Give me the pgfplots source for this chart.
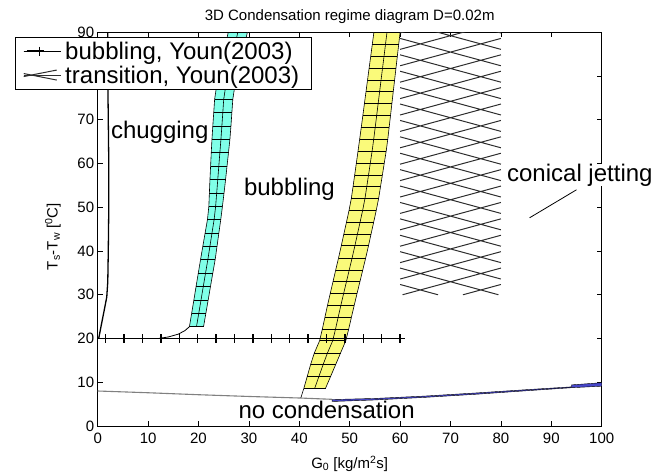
\documentclass[border=0pt]{standalone}
\usepackage{pgfplots}
\pgfplotsset{compat=1.18}
\usepackage{pgfplotstable}
\usepgfplotslibrary{fillbetween}
\usepackage{fontspec}
\setmainfont{Liberation Sans}

\definecolor{bandcyan}{RGB}{128,255,232}
\definecolor{bandyellow}{RGB}{250,250,122}
\definecolor{hatch}{RGB}{45,45,45}
\definecolor{lowblue}{RGB}{70,70,200}

% cyan strip (chugging -> bubbling)
\pgfplotstableread{
y xl xr
22.7 18.20 21.00
25.8 18.65 21.47
28.8 19.08 21.92
31.9 19.52 22.38
34.9 19.95 22.83
38.0 20.40 23.30
41.1 20.86 23.68
44.1 21.31 24.04
47.2 21.78 24.42
50.2 22.05 24.75
53.3 22.16 25.07
56.3 22.27 25.37
59.4 22.40 25.66
62.5 22.53 25.95
65.5 22.67 26.23
68.6 22.84 26.44
71.6 23.02 26.62
74.7 23.20 26.81
77.8 23.60 27.22
80.8 24.17 27.83
83.9 24.75 28.46
86.9 25.32 29.07
90.0 25.90 29.70
}\cyanband

% yellow strip (bubbling -> jetting)
\pgfplotstableread{
y xl xr
8.6 40.90 45.20
11.3 41.57 46.20
14.0 42.23 47.20
16.7 42.99 48.19
19.5 44.03 49.23
22.2 44.58 49.81
24.9 45.09 50.35
27.6 45.60 50.90
30.3 46.14 51.46
33.0 46.69 52.03
35.7 47.23 52.60
38.4 47.78 53.17
41.2 48.33 53.73
43.9 48.84 54.24
46.6 49.36 54.76
49.3 49.87 55.27
52.0 50.32 55.74
54.7 50.66 56.11
57.4 50.99 56.49
60.1 51.32 56.86
62.9 51.66 57.25
65.6 51.98 57.56
68.3 52.30 57.83
71.0 52.61 58.10
73.7 52.92 58.37
76.4 53.23 58.64
79.1 53.54 58.91
81.8 53.85 59.18
84.6 54.18 59.46
87.3 54.49 59.73
90.0 54.80 60.00
}\yellowband

\begin{document}
\begin{tikzpicture}
\begin{axis}[
    scale only axis,
    width=504pt, height=393.7pt,
    xmin=0, xmax=100, ymin=0, ymax=90,
    xtick={0,10,...,100}, ytick={0,10,...,90},
    tick align=inside, major tick length=5pt,
    tick pos=both,
    axis line style={line width=0.8pt},
    every tick/.style={black, line width=0.8pt},
    /pgf/number format/assume math mode=true,
    tick label style={font=\fontsize{15}{18}\selectfont},
    xticklabel style={yshift=-3pt},
    title={3D Condensation regime diagram D=0.02m},
    title style={font=\fontsize{15}{18}\selectfont, at={(0.5,1)}, anchor=base, yshift=6pt},
    xlabel={G\textsubscript{0} [kg/m\textsuperscript{2}s]},
    xlabel style={font=\fontsize{15}{18}\selectfont, at={(axis description cs:0.5,0)}, anchor=center, yshift=-37.7pt},
    ylabel={T\textsubscript{s}-T\textsubscript{w} [\textsuperscript{0}C]},
    ylabel style={font=\fontsize{15}{18}\selectfont, at={(axis description cs:-0.0887,0.481)}, anchor=center},
    legend cell align=left,
    legend style={at={(-0.164,0.988)}, anchor=north west,
        font=\fontsize{24}{28}\selectfont, draw=black, fill=white,
        inner xsep=8pt, inner ysep=2pt,
        nodes={inner xsep=4pt, inner ysep=2.5pt}},
]

% cyan strip
\addplot[draw=none, forget plot, name path=cl] table[x=xl, y=y] {\cyanband};
\addplot[draw=none, forget plot, name path=cr] table[x=xr, y=y] {\cyanband};
\addplot[bandcyan, forget plot] fill between[of=cl and cr];
\addplot[black, line width=0.6pt, forget plot] table[x=xl, y=y] {\cyanband};
\addplot[black, line width=0.6pt, forget plot] table[x=xr, y=y] {\cyanband};
\addplot[black, line width=0.6pt, forget plot] table[x expr=(\thisrow{xl}+\thisrow{xr})/2, y=y] {\cyanband};
\addplot[draw=none, forget plot, error bars/.cd, x dir=plus, x explicit, error mark=none,
    error bar style={draw=black, line width=0.6pt}]
    table[x=xl, y=y, x error expr=\thisrow{xr}-\thisrow{xl}] {\cyanband};

% yellow strip
\addplot[draw=none, forget plot, name path=yl] table[x=xl, y=y] {\yellowband};
\addplot[draw=none, forget plot, name path=yr] table[x=xr, y=y] {\yellowband};
\addplot[bandyellow, forget plot] fill between[of=yl and yr];
\addplot[black, line width=0.6pt, forget plot] table[x=xl, y=y] {\yellowband};
\addplot[black, line width=0.6pt, forget plot] table[x=xr, y=y] {\yellowband};
\addplot[black, line width=0.6pt, forget plot] table[x expr=(\thisrow{xl}+\thisrow{xr})/2, y=y] {\yellowband};
\addplot[draw=none, forget plot, error bars/.cd, x dir=plus, x explicit, error mark=none,
    error bar style={draw=black, line width=0.6pt}]
    table[x=xl, y=y, x error expr=\thisrow{xr}-\thisrow{xl}] {\yellowband};

% no condensation boundary
\addplot[gray, line width=1.1pt, forget plot] coordinates {
    (0,8.0) (10,7.6) (20,7.15) (30,6.75) (40,6.4) (46.5,6.1)
};
\addplot[black, line width=0.6pt, forget plot] coordinates {(40.3,6.4) (40.9,8.6)};
\addplot[fill=lowblue, draw=black, line width=0.4pt, forget plot] coordinates {
    (46.5,5.6) (55,5.95) (65,6.55) (75,7.25) (85,8.05) (94,8.75) (100,9.1)
    (100,9.9) (94,9.4) (94,8.95) (85,8.3) (75,7.55) (65,6.85) (55,6.3) (46.5,6.05)
} -- cycle;

% chugging boundary
\addplot[black, line width=1.3pt, forget plot] coordinates {
    (0.2,20) (0.7,23) (1.3,26.5) (1.8,29.5) (2.0,33) (2.1,40) (2.2,50)
    (2.2,60) (2.1,70) (2.0,80) (2.0,90)
};
\addplot[black, line width=0.8pt, forget plot] coordinates {
    (12.0,20) (14,20.35) (16,21.0) (17.3,21.8) (18.2,22.7)
};
\addplot[black, line width=0.8pt, forget plot] coordinates {(85.7,47.6) (95.0,54.0)};

% Youn (2003) bubbling
\addplot[black, line width=0.9pt, mark=+, mark size=4.5pt, mark phase=2,
    mark options={line width=1.4pt},
    legend image code/.code={
        \path (0pt,0pt) -- (37pt,0pt);
        \draw[black, line width=0.9pt] (0pt,0pt) -- (20pt,0pt);
        \draw[black, line width=1.4pt, mark=+, mark size=4.5pt] plot coordinates {(3pt,0pt) (16pt,0pt)};
    }] coordinates {
    (0,20) (1.6,20) (5.25,20) (8.9,20) (12.55,20) (16.2,20) (19.85,20)
    (23.5,20) (27.15,20) (30.8,20) (34.45,20) (38.1,20) (41.75,20)
    (45.4,20) (49.05,20) (52.7,20) (56.35,20) (60.0,20)
};
\addlegendentry{bubbling, Youn(2003)}

% Youn (2003) transition
\addplot[hatch, line width=1pt, unbounded coords=jump,
    legend image code/.code={
        \path (0pt,0pt) -- (37pt,0pt);
        \draw[hatch, line width=1pt] (0pt,-1.5pt) -- (33pt,5pt);
        \draw[hatch, line width=1pt] (0pt,1.5pt) -- (33pt,-5pt);
    }] coordinates {
    (60,32.35) (67.52,30) (nan,nan)
    (60,36.1) (79.52,30) (nan,nan)
    (60,39.85) (80,33.6) (nan,nan)
    (60,43.6) (80,37.35) (nan,nan)
    (60,47.35) (80,41.1) (nan,nan)
    (60,51.1) (80,44.85) (nan,nan)
    (60,54.85) (80,48.6) (nan,nan)
    (60,58.6) (80,52.35) (nan,nan)
    (60,62.35) (80,56.1) (nan,nan)
    (60,66.1) (80,59.85) (nan,nan)
    (60,69.85) (80,63.6) (nan,nan)
    (60,73.6) (80,67.35) (nan,nan)
    (60,77.35) (80,71.1) (nan,nan)
    (60,81.1) (80,74.85) (nan,nan)
    (60,84.85) (80,78.6) (nan,nan)
    (60,88.6) (80,82.35) (nan,nan)
    (60,92.35) (80,86.1) (nan,nan)
    (60,96.1) (80,89.85) (nan,nan)
    (72.48,30) (80,32.35) (nan,nan)
    (60.48,30) (80,36.1) (nan,nan)
    (60,33.6) (80,39.85) (nan,nan)
    (60,37.35) (80,43.6) (nan,nan)
    (60,41.1) (80,47.35) (nan,nan)
    (60,44.85) (80,51.1) (nan,nan)
    (60,48.6) (80,54.85) (nan,nan)
    (60,52.35) (80,58.6) (nan,nan)
    (60,56.1) (80,62.35) (nan,nan)
    (60,59.85) (80,66.1) (nan,nan)
    (60,63.6) (80,69.85) (nan,nan)
    (60,67.35) (80,73.6) (nan,nan)
    (60,71.1) (80,77.35) (nan,nan)
    (60,74.85) (80,81.1) (nan,nan)
    (60,78.6) (80,84.85) (nan,nan)
    (60,82.35) (80,88.6) (nan,nan)
    (60,86.1) (80,92.35) (nan,nan)
    (60,89.85) (80,96.1)
};
\addlegendentry{transition, Youn(2003)}

\node[anchor=base west, inner sep=0pt, font=\fontsize{24}{28}\selectfont] at (axis cs:2.6,65.7) {chugging};
\node[anchor=base west, inner sep=0pt, font=\fontsize{24}{28}\selectfont] at (axis cs:29.0,52.8) {bubbling};
\node[anchor=base west, inner sep=0pt, font=\fontsize{24}{28}\selectfont] at (axis cs:27.9,1.8) {no condensation};
\coordinate (cj) at (axis cs:81.2,55.9);
\end{axis}
\node[anchor=base west, inner sep=0pt, fill=white, font=\fontsize{24}{28}\selectfont] at (cj) {conical jetting};
\pgfresetboundingbox
\path[use as bounding box] ([shift={(-97.7pt,-50pt)}]current axis.south west)
    rectangle ([shift={(65.3pt,32.3pt)}]current axis.north east);
\end{tikzpicture}
\end{document}
